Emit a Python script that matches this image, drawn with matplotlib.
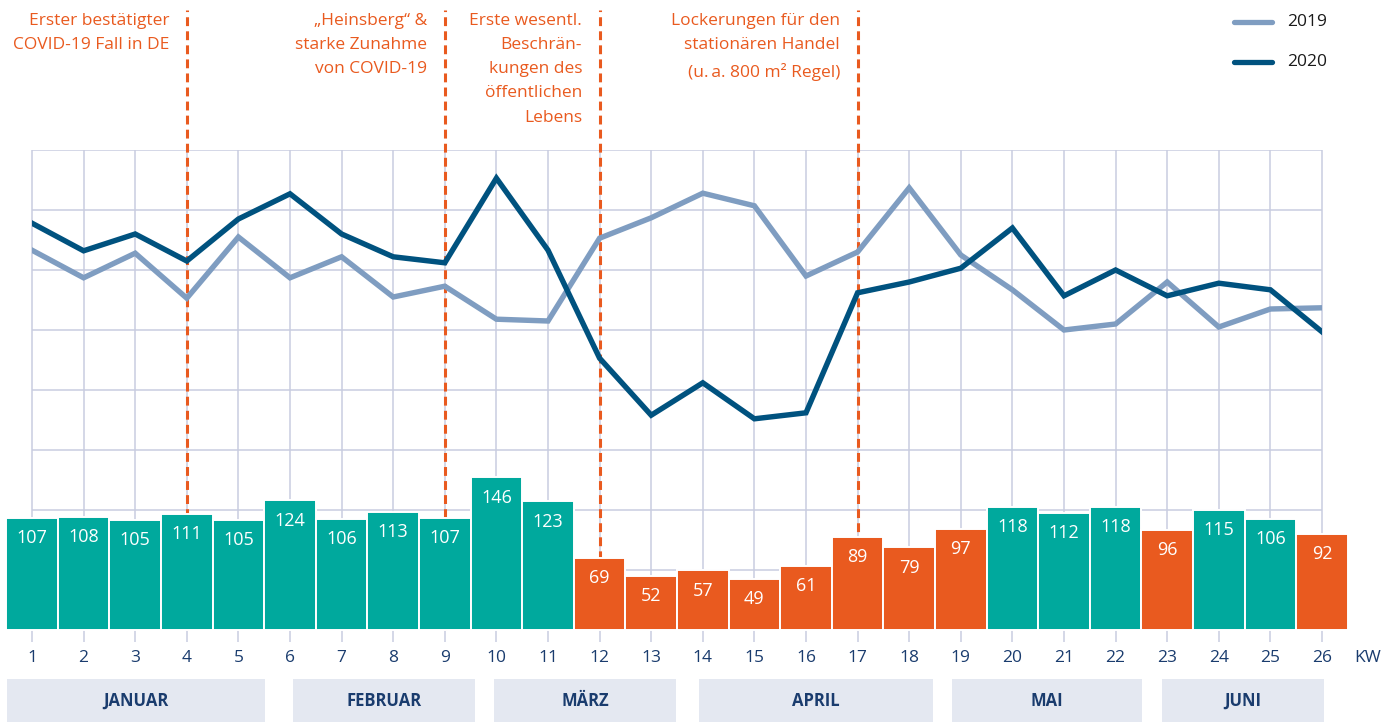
import matplotlib
matplotlib.use("Agg")
import matplotlib.pyplot as plt
from matplotlib.patches import Rectangle
import matplotlib.transforms as mtrans

plt.rcParams['font.family'] = ['Open Sans', 'DejaVu Sans']

# ---------------- data ----------------
weeks = list(range(1, 27))
index_values = [107, 108, 105, 111, 105, 124, 106, 113, 107, 146, 123, 69, 52,
                57, 49, 61, 89, 79, 97, 118, 112, 118, 96, 115, 106, 92]
line_2019 = [633, 587, 628, 553, 655, 587, 622, 555, 573, 518, 515, 653, 687,
             728, 707, 590, 630, 737, 625, 567, 500, 510, 580, 505, 535, 537]
line_2020 = [678, 632, 660, 615, 685, 727, 660, 622, 612, 753, 633, 453, 358,
             412, 352, 362, 562, 580, 603, 670, 557, 600, 557, 578, 567, 497]
event_weeks = [4, 9, 12, 17]
event_labels = ["Erster bestätigter\nCOVID-19 Fall in DE",
                "\u201eHeinsberg\u201c &\nstarke Zunahme\nvon COVID-19",
                "Erste wesentl.\nBeschrän-\nkungen des\nöffentlichen\nLebens",
                "Lockerungen für den\nstationären Handel\n(u.\u2009a. 800 m² Regel)"]
months = ["JANUAR", "FEBRUAR", "MÄRZ", "APRIL", "MAI", "JUNI"]
month_start = [0.52, 6.06, 9.95, 13.93, 18.83, 22.90]
month_end = [5.52, 9.59, 13.48, 18.46, 22.51, 26.04]
legend_labels = ["2019", "2020"]

# ---------------- style ----------------
TEAL = "#00A99D"
ORANGE = "#E95A1F"
DARK = "#00527F"
LIGHT = "#7F9DC1"
GRID = "#C9CDE0"
BOX = "#E4E8F1"
NAVY = "#1A3C6E"

W, H = 1382, 722
fig = plt.figure(figsize=(W / 100, H / 100), dpi=100)
x0, x1 = 32, 1322
ytop, ybase = 150, 630
ax = fig.add_axes([x0 / W, (H - ybase) / H, (x1 - x0) / W, (ybase - ytop) / H])
ax.set_xlim(1, 26)
ax.set_ylim(0, 800)
ax.axis('off')

px = 800 / (ybase - ytop)  # data units per pixel on ax

# grid
ax.hlines(range(100, 801, 100), 1, 26, color=GRID, lw=1.1, zorder=1)
ax.vlines(weeks, -12 * px, 800, color=GRID, lw=1.1, zorder=1, clip_on=False)

# event dashed lines
ax.vlines(event_weeks, 0, (ybase - 10) * px, color=ORANGE, lw=2.2,
          linestyle=(0, (2.9, 1.7)), zorder=2, clip_on=False)

# lines
ax.plot(weeks, line_2019, color=LIGHT, lw=3.9, zorder=3, solid_joinstyle='miter')
ax.plot(weeks, line_2020, color=DARK, lw=3.9, zorder=4, solid_joinstyle='miter')

# bars on twin axes
ax2 = ax.twinx()
ax2.set_ylim(0, (ybase - ytop) / 1.045)
ax2.axis('off')
colors = [TEAL if v >= 100 else ORANGE for v in index_values]
ax2.bar(weeks, index_values, width=1.0, color=colors, edgecolor='white',
        linewidth=1.4, clip_on=False, zorder=2)
for wk, v in zip(weeks, index_values):
    ax2.annotate(str(v), (wk, v), xytext=(0, -14.5), textcoords='offset points',
                 ha='center', va='center', color='white', fontsize=13)

# event labels
for wk, lab in zip(event_weeks, event_labels):
    ax.annotate(lab, (wk, (ybase - 13) * px), xytext=(-12.5, 0),
                textcoords='offset points', ha='right', va='top',
                color=ORANGE, fontsize=12.5, linespacing=1.68,
                annotation_clip=False)

# x tick labels
for wk in weeks:
    ax.annotate(str(wk), (wk, 0), xytext=(0, -20), textcoords='offset points',
                ha='center', va='center', color=NAVY, fontsize=12.5,
                annotation_clip=False)
ax.annotate("KW", (26, 0), xytext=(33, -20), textcoords='offset points',
            ha='center', va='center', color=NAVY, fontsize=12.5,
            annotation_clip=False)

# month boxes
trans = mtrans.blended_transform_factory(ax.transData, fig.transFigure)
for name, s, e in zip(months, month_start, month_end):
    r = Rectangle((s, 0), e - s, (H - 679) / H, transform=trans,
                  facecolor=BOX, edgecolor='none', clip_on=False)
    fig.add_artist(r)
    fig.text((s + e) / 2, (H - 701) / H, name, transform=trans,
             ha='center', va='center', color=NAVY, fontsize=12,
             fontweight='bold')

# legend
for i, (lab, col) in enumerate(zip(legend_labels, [LIGHT, DARK])):
    yy = (H - (22 + 40 * i)) / H
    fig.add_artist(plt.Line2D([1234 / W, 1272 / W], [yy, yy], color=col,
                              lw=3.8, solid_capstyle='round'))
    fig.text(1287 / W, yy, lab, ha='left', va='center', color='#1a1a1a',
             fontsize=12.5)

fig.savefig("out.png", dpi=100)
